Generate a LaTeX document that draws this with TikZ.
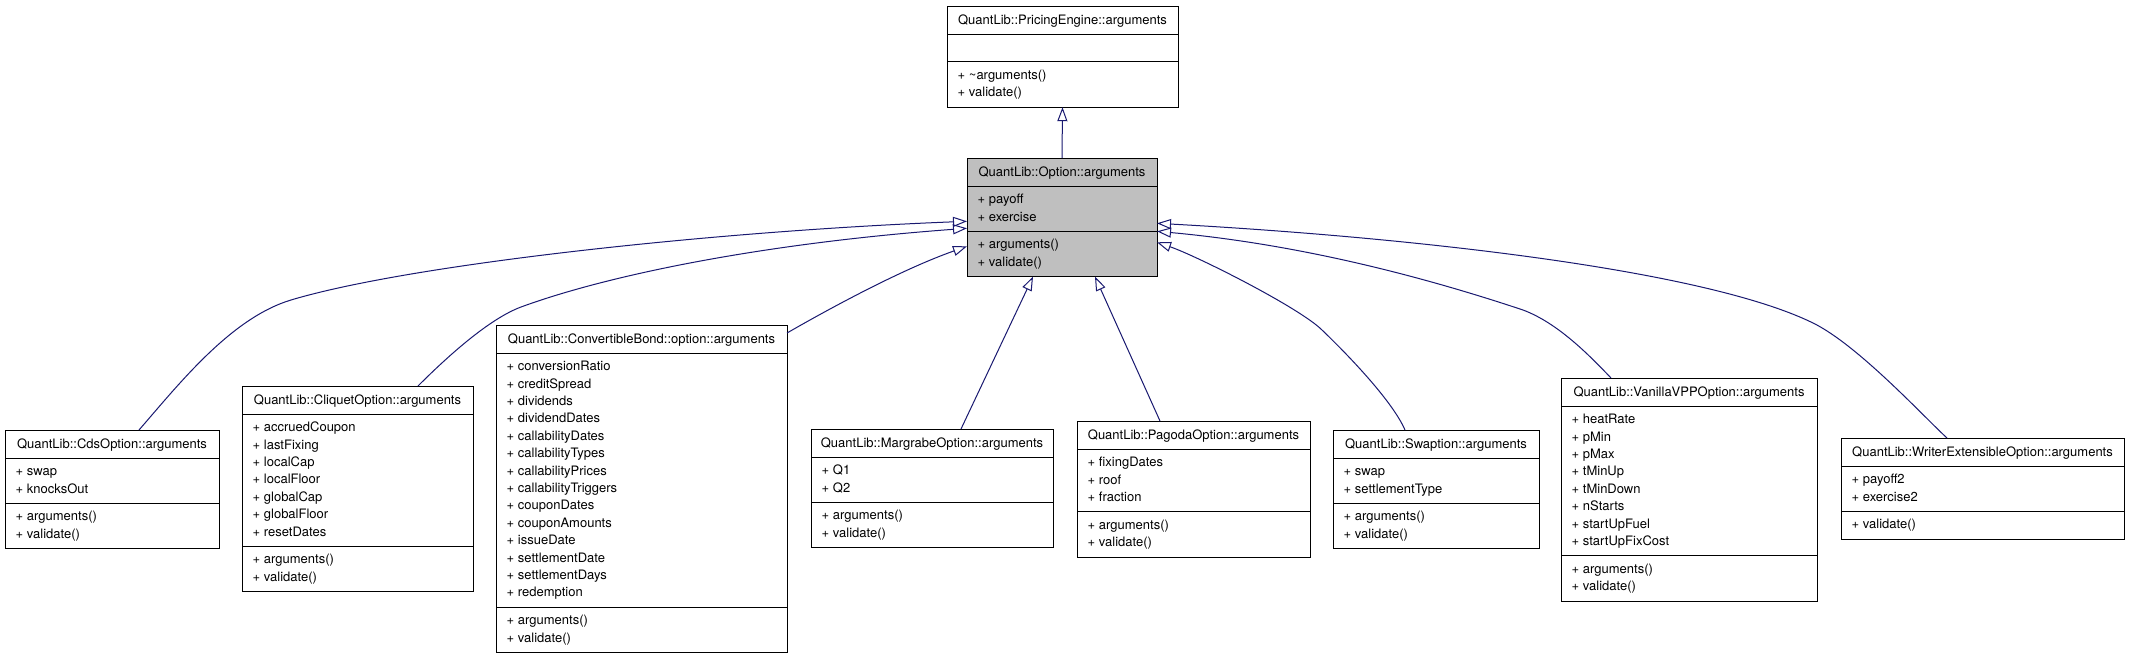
\documentclass[tikz,border=0pt]{standalone}
\usepackage{fontspec}
\setmainfont{TeX Gyre Heros}
\usetikzlibrary{arrows.meta}
\definecolor{edgeblue}{RGB}{25,25,112}
\definecolor{optgray}{RGB}{191,191,191}
\def\boxfill{white}
\tikzset{
  classbox/.style={draw=black, line width=1pt, fill=\boxfill, inner sep=0pt, outer sep=0pt},
  classline/.style={draw=black, line width=1pt},
  headtext/.style={inner sep=0pt, anchor=base, font=\fontsize{13pt}{17.4pt}\selectfont},
  membtext/.style={inner sep=0pt, anchor=north west, align=left, font=\fontsize{13pt}{17.4pt}\selectfont},
  inherit/.style={draw=edgeblue, line width=1pt, -{Triangle[open, length=14pt, width=10pt]}},
}
% #1 name, #2 x, #3 y, #4 width, #5 attr lines, #6 method lines, #7 header, #8 attrs, #9 methods
\newcommand\umlclass[9]{%
  \pgfmathsetmacro\hA{#5*17.4+10.5}%
  \pgfmathsetmacro\hM{#6*17.4+10.5}%
  \pgfmathsetmacro\hT{28+\hA+\hM}%
  \node[classbox, minimum width=#4pt, minimum height=\hT pt, anchor=north west] (#1) at (#2,#3) {};
  \draw[classline] (#2,#3+28) -- ++(#4,0);
  \draw[classline] (#2,#3+28+\hA) -- ++(#4,0);
  \node[headtext] at (#2+#4/2, #3+18.5) {#7};
  \node[membtext] at (#2+10.5, #3+28+5.3) {\strut #8};
  \node[membtext] at (#2+10.5, #3+28+\hA+5.3) {\strut #9};
}
\begin{document}
\begin{tikzpicture}[x=1pt,y=-1pt]
\useasboundingbox[fill=white] (0,0) rectangle (2131,659);

\umlclass{pe}{947}{6}{231}{1}{2}{QuantLib::PricingEngine::arguments}{}{+ \textasciitilde arguments()\\+ validate()}
\def\boxfill{optgray}
\umlclass{opt}{967}{158}{190}{2}{2}{QuantLib::Option::arguments}{+ payoff\\+ exercise}{+ arguments()\\+ validate()}
\def\boxfill{white}
\umlclass{cds}{5}{430}{214}{2}{2}{QuantLib::CdsOption::arguments}{+ swap\\+ knocksOut}{+ arguments()\\+ validate()}
\umlclass{cliq}{242}{386}{231}{7}{2}{QuantLib::CliquetOption::arguments}{+ accruedCoupon\\+ lastFixing\\+ localCap\\+ localFloor\\+ globalCap\\+ globalFloor\\+ resetDates}{+ arguments()\\+ validate()}
\umlclass{conv}{496}{325}{291}{14}{2}{QuantLib::ConvertibleBond::option::arguments}{+ conversionRatio\\+ creditSpread\\+ dividends\\+ dividendDates\\+ callabilityDates\\+ callabilityTypes\\+ callabilityPrices\\+ callabilityTriggers\\+ couponDates\\+ couponAmounts\\+ issueDate\\+ settlementDate\\+ settlementDays\\+ redemption}{+ arguments()\\+ validate()}
\umlclass{marg}{811}{429}{242}{2}{2}{QuantLib::MargrabeOption::arguments}{+ Q1\\+ Q2}{+ arguments()\\+ validate()}
\umlclass{pag}{1077}{421}{233}{3}{2}{QuantLib::PagodaOption::arguments}{+ fixingDates\\+ roof\\+ fraction}{+ arguments()\\+ validate()}
\umlclass{swp}{1333}{430}{206}{2}{2}{QuantLib::Swaption::arguments}{+ swap\\+ settlementType}{+ arguments()\\+ validate()}
\umlclass{vpp}{1561}{378}{256}{8}{2}{QuantLib::VanillaVPPOption::arguments}{+ heatRate\\+ pMin\\+ pMax\\+ tMinUp\\+ tMinDown\\+ nStarts\\+ startUpFuel\\+ startUpFixCost}{+ arguments()\\+ validate()}
\umlclass{wr}{1841}{438}{283}{2}{1}{QuantLib::WriterExtensibleOption::arguments}{+ payoff2\\+ exercise2}{+ validate()}

\draw[inherit] (opt.north) -- (pe.south);
\draw[inherit] ([xshift=27pt]cds.north) .. controls (179,384) and (231,318) .. (291,300) .. controls (411,264) and (717,231) .. ([yshift=-4pt]opt.west);
\draw[inherit] ([xshift=60.5pt]cliq.north) .. controls (440,364) and (486,320) .. (521,307) .. controls (611,274) and (767,243) .. ([yshift=-11pt]opt.west);
\draw[inherit] ([yshift=-8pt]conv.north east) .. controls (827,310) and (900,270) .. ([yshift=-29pt]opt.west);
\draw[inherit] ([xshift=29pt]marg.north) -- ([xshift=-29pt]opt.south);
\draw[inherit] ([xshift=-33.5pt]pag.north) -- ([xshift=33pt]opt.south);
\draw[inherit] ([xshift=-31pt]swp.north) .. controls (1392,400) and (1345,352) .. (1322,330) .. controls (1300,308) and (1197,256) .. ([yshift=-25pt]opt.east);
\draw[inherit] ([xshift=-78pt]vpp.north) .. controls (1590,356) and (1558,323) .. (1523,310) .. controls (1433,280) and (1307,245) .. ([yshift=-14pt]opt.east);
\draw[inherit] ([xshift=-35.5pt]wr.north) .. controls (1925,418) and (1858,345) .. (1813,323) .. controls (1703,269) and (1407,237) .. ([yshift=-6pt]opt.east);
\end{tikzpicture}
\end{document}
